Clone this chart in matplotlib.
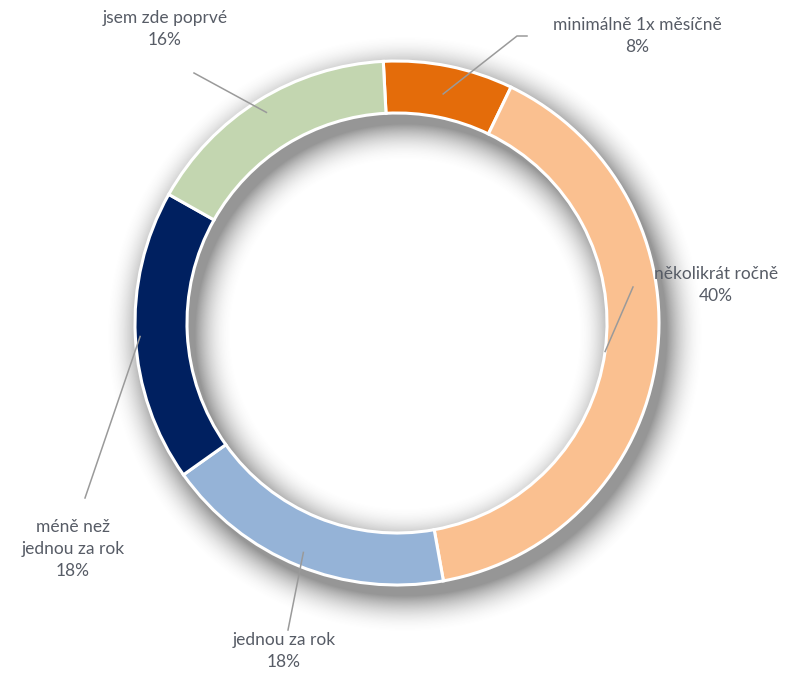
import numpy as np
import matplotlib.pyplot as plt

# answers (share of respondents, %)
labels = ["minimálně 1x měsíčně", "několikrát ročně", "jednou za rok",
          "méně než\njednou za rok", "jsem zde poprvé"]
shares = [8, 40, 18, 18, 16]
colors = ["#E46C0A", "#FAC090", "#95B3D7", "#002060", "#C3D6B0"]

W, H = 800, 686
cx, cy = 397, H - 323  # ring centre in pixels (y up)
R, ring_w = 262, 52
start = 93

# label centres and the outer end of each leader, pixels from top-left
label_pos = [(637, 36), (716, 285), (284, 651), (73, 549), (165, 29)]
leader_out = [[(527, 36), (517, 36)], [(633, 287)], [(288, 630)], [(85, 498)], [(194, 73)]]
# how deep into the ring each leader reaches (1 = middle of ring)
leader_r = [0.99, 0.89, 1.05, 1.09, 1.05]

fig = plt.figure(figsize=(W / 100, H / 100), dpi=100)
ax = fig.add_axes([0, 0, 1, 1])

# soft drop shadow under the ring
xx, yy = np.meshgrid(np.arange(W) + 0.5, np.arange(H) + 0.5)
r = np.hypot(xx - (cx + 8), yy - (cy - 11))
d = np.maximum(0, np.maximum(r - R, (R - ring_w) - r))
a = 0.6 * np.clip(1 - d / 38, 0, 1) ** 2
shadow = np.zeros((H, W, 4))
shadow[..., :3] = 0.32
shadow[..., 3] = a
ax.imshow(shadow, extent=(0, W, 0, H), origin="lower", zorder=0)

ax.pie(shares, colors=colors, startangle=start, counterclock=False,
       radius=R, center=(cx, cy),
       wedgeprops=dict(width=ring_w, edgecolor="white", linewidth=2.2))

cum = np.cumsum(shares)
for i, (lab, val) in enumerate(zip(labels, shares)):
    mid = np.deg2rad(start - 360 * (cum[i] - val / 2) / 100)
    x0 = cx + (R - ring_w / 2) * np.cos(mid) * leader_r[i]
    y0 = cy + (R - ring_w / 2) * np.sin(mid) * leader_r[i]
    pts = [(x0, y0)] + [(px, H - py) for px, py in leader_out[i][::-1]]
    ax.plot([p[0] for p in pts], [p[1] for p in pts], color="#9A9A9A", lw=1.1, zorder=5)
    lx, ly = label_pos[i]
    ax.text(lx, H - ly, f"{lab}\n{val}%", ha="center", va="center",
            fontsize=12.5, family=["Lato", "DejaVu Sans"], color="#575C66",
            linespacing=1.5, zorder=6)

ax.set_xlim(0, W)
ax.set_ylim(0, H)
ax.set_aspect("equal")
ax.axis("off")
fig.savefig("out.png", dpi=100, facecolor="white")
